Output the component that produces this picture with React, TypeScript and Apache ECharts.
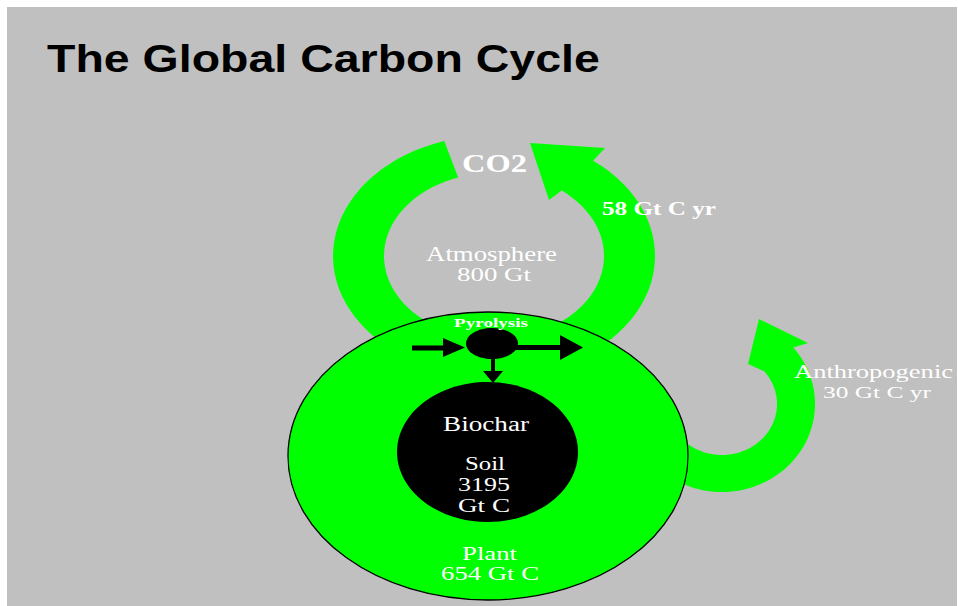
import React, { useEffect, useRef } from 'react';
import * as echarts from 'echarts';

// ---- data ----
const titleText = 'The Global Carbon Cycle';
const poolNames = ['Atmosphere', 'Soil', 'Plant'];
const poolValues = [800, 3195, 654];
const poolUnits = ['Gt', 'Gt C', 'Gt C'];
const fluxNames = ['', 'Anthropogenic'];
const fluxValues = [58, 30];
const fluxUnit = 'Gt C yr';
const gasName = 'CO2';
const processName = 'Pyrolysis';
const storeName = 'Biochar';

const GREEN = '#00ff00';
const GRAY = '#c0c0c0';

function arc(cx: number, cy: number, rx: number, ry: number, a0: number, a1: number, n = 80) {
  const pts: number[][] = [];
  for (let i = 0; i <= n; i++) {
    const a = ((a0 + (a1 - a0) * (i / n)) * Math.PI) / 180;
    pts.push([cx + rx * Math.cos(a), cy - ry * Math.sin(a)]);
  }
  return pts;
}

let measureCtx: CanvasRenderingContext2D | null = null;
function textWidth(text: string, font: string) {
  if (!measureCtx) measureCtx = document.createElement('canvas').getContext('2d');
  measureCtx!.font = font;
  return measureCtx!.measureText(text).width;
}

function label(
  text: string,
  x: number,
  y: number,
  size: number,
  target: number,
  weight: string = 'normal',
  family: string = 'Liberation Serif',
  fill: string = '#ffffff',
  align: string = 'center'
) {
  const w = textWidth(text, `${weight} ${size}px "${family}"`);
  return {
    type: 'text',
    x,
    y,
    scaleX: target / w,
    z: 10,
    style: {
      text,
      fill,
      fontSize: size,
      fontFamily: family,
      fontWeight: weight,
      align,
      verticalAlign: 'middle',
    },
  };
}

export default function App() {
  const ref = useRef<HTMLDivElement>(null);
  useEffect(() => {
    if (!ref.current) return;
    const chart = echarts.init(ref.current, null, { renderer: 'svg' });

    // atmosphere cycle arrow
    const ringOuter = arc(494, 256, 161, 121, 108, 412);
    const ringInner = arc(494, 256, 110, 83, 412, 109);
    const ringPts = [...ringOuter, [605, 148], [530, 143], [549, 200], ...ringInner];

    // anthropogenic arrow
    const jOuter = arc(722, 404, 93, 88, 200, 400);
    const jInner = arc(722, 404, 55, 51, 400, 200);
    const jPts = [...jOuter, [808, 343], [759, 319], [748, 364], ...jInner];

    const graphics: any[] = [
      { type: 'rect', shape: { x: 7, y: 7, width: 950, height: 599 }, style: { fill: GRAY }, z: 0 },
      { type: 'polygon', shape: { points: ringPts }, style: { fill: GREEN }, z: 1 },
      { type: 'polygon', shape: { points: jPts }, style: { fill: GREEN }, z: 1 },
      {
        type: 'ellipse',
        shape: { cx: 488, cy: 456, rx: 200, ry: 144 },
        style: { fill: GREEN, stroke: '#000', lineWidth: 1.3 },
        z: 2,
      },
      { type: 'ellipse', shape: { cx: 487.5, cy: 452, rx: 90.5, ry: 70 }, style: { fill: '#000' }, z: 3 },
      { type: 'ellipse', shape: { cx: 492, cy: 343.5, rx: 26, ry: 15.5 }, style: { fill: '#000' }, z: 3 },
      // arrows around pyrolysis
      { type: 'line', shape: { x1: 412, y1: 348, x2: 446, y2: 348 }, style: { stroke: '#000', lineWidth: 5 }, z: 3 },
      { type: 'polygon', shape: { points: [[443, 338], [465, 347.5], [443, 357]] }, style: { fill: '#000' }, z: 3 },
      { type: 'line', shape: { x1: 516, y1: 347.5, x2: 563, y2: 347.5 }, style: { stroke: '#000', lineWidth: 5 }, z: 3 },
      { type: 'polygon', shape: { points: [[560, 335], [583, 347.5], [560, 360]] }, style: { fill: '#000' }, z: 3 },
      { type: 'line', shape: { x1: 493, y1: 357, x2: 493, y2: 373 }, style: { stroke: '#000', lineWidth: 4 }, z: 3 },
      { type: 'polygon', shape: { points: [[483, 371], [493, 383], [503, 371]] }, style: { fill: '#000' }, z: 3 },
      // texts
      label(titleText, 47, 59, 38, 553, 'bold', 'Liberation Sans', '#000000', 'left'),
      label(gasName, 494.5, 163.5, 26, 65, 'bold'),
      label(`${fluxValues[0]} ${fluxUnit}`, 659, 209, 18, 114, 'bold'),
      label(poolNames[0], 491.5, 254, 20, 131),
      label(`${poolValues[0]} ${poolUnits[0]}`, 494, 275, 18, 74),
      label(processName, 491, 323, 13, 74, 'bold'),
      label(storeName, 486, 424, 20, 86),
      label(poolNames[1], 485, 463.5, 19, 40),
      label(String(poolValues[1]), 484, 484.5, 19, 52),
      label(poolUnits[1], 484, 505.5, 19, 52),
      label(poolNames[2], 489.5, 553.5, 19, 55),
      label(`${poolValues[2]} ${poolUnits[2]}`, 490, 574, 18, 98),
      label(fluxNames[1], 873.5, 372, 18, 159),
      label(`${fluxValues[1]} ${fluxUnit}`, 877, 392.5, 17, 108),
    ];

    chart.setOption({
      animation: false,
      backgroundColor: '#ffffff',
      graphic: graphics,
    });
    return () => chart.dispose();
  }, []);
  return (
    <div
      ref={ref}
      style={{ position: 'absolute', left: 0, top: 0, width: 958, height: 606 }}
    />
  );
}
